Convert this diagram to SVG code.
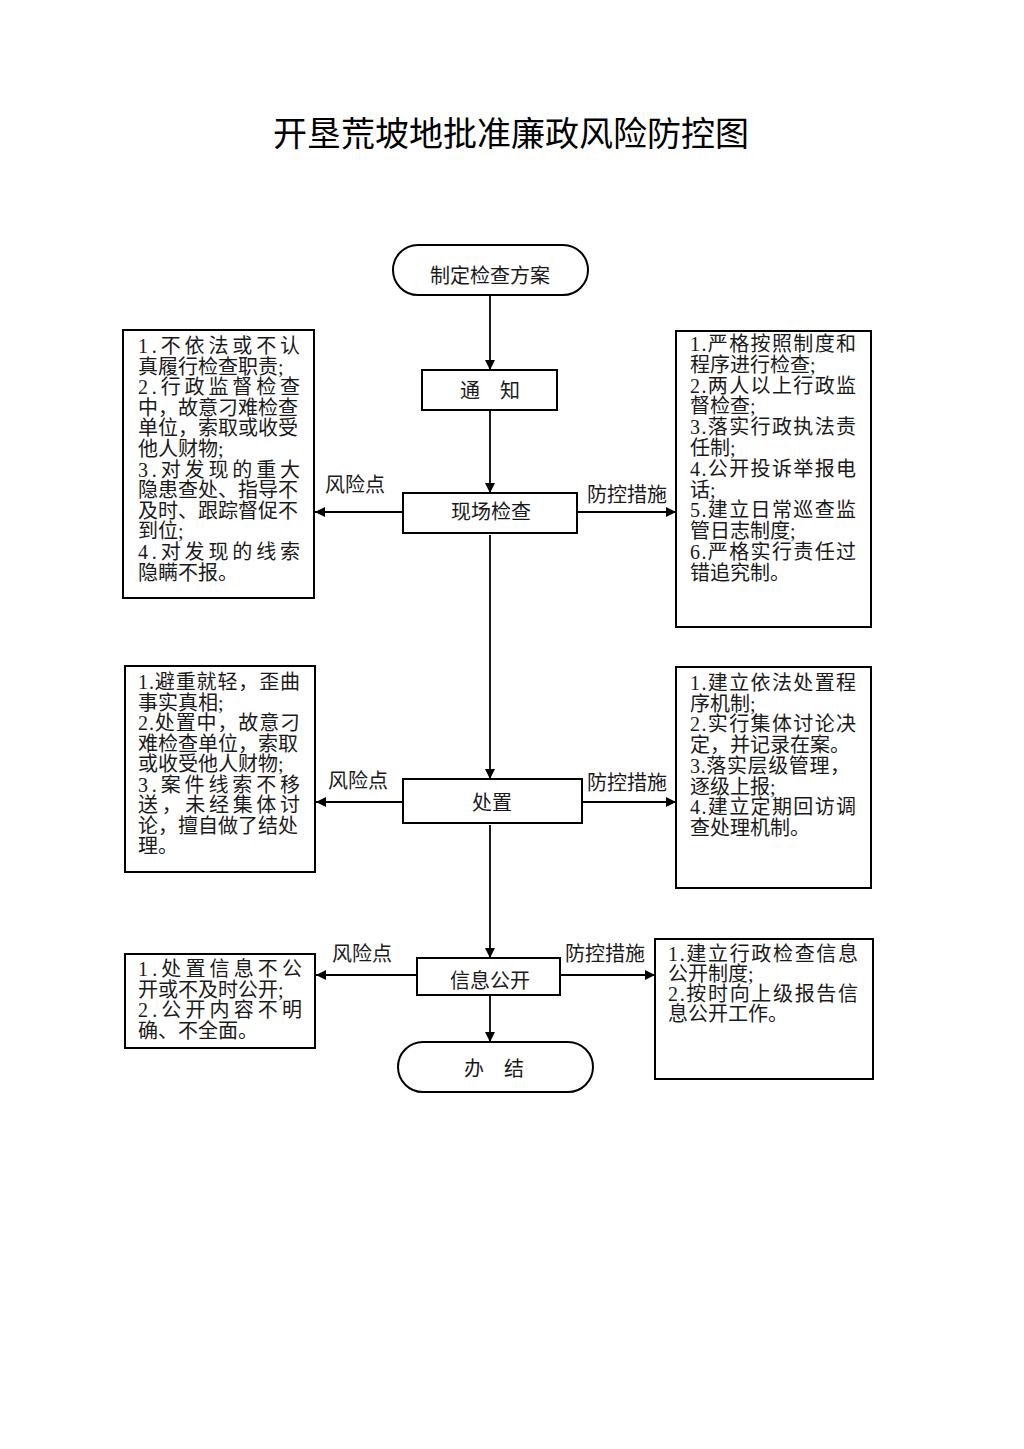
<svg xmlns="http://www.w3.org/2000/svg" width="1024" height="1449" viewBox="0 0 1024 1449">
<style>
.bg{fill:#ffffff}
.box{fill:#ffffff;stroke:#000;stroke-width:2}
.ln{fill:none;stroke:#000;stroke-width:1.8}
.t{font-family:"Liberation Serif","Noto Sans CJK SC",serif;font-size:20px;fill:#1a1a1a}
.c{text-anchor:middle}
.title{font-family:"Noto Sans CJK SC","Liberation Sans",sans-serif;font-size:34px;fill:#000;text-anchor:middle}
</style>
<defs>
<marker id="ah" markerWidth="10" markerHeight="10" refX="10" refY="5" orient="auto" markerUnits="userSpaceOnUse">
<path d="M0,0 L10,5 L0,10 Z" fill="#000"/>
</marker>
</defs>
<rect class="bg" x="0" y="0" width="1024" height="1449"/>
<text class="title" x="511" y="146">开垦荒坡地批准廉政风险防控图</text>

<g id="connectors">
<line class="ln" x1="490" y1="295" x2="490" y2="370" marker-end="url(#ah)"/>
<line class="ln" x1="490" y1="410" x2="490" y2="493" marker-end="url(#ah)"/>
<line class="ln" x1="490" y1="535" x2="490" y2="779" marker-end="url(#ah)"/>
<line class="ln" x1="490" y1="825" x2="490" y2="958" marker-end="url(#ah)"/>
<line class="ln" x1="490" y1="995" x2="490" y2="1042" marker-end="url(#ah)"/>
<line class="ln" x1="403" y1="512" x2="315" y2="512" marker-end="url(#ah)"/>
<line class="ln" x1="577" y1="512" x2="676" y2="512" marker-end="url(#ah)"/>
<line class="ln" x1="403" y1="802" x2="316" y2="802" marker-end="url(#ah)"/>
<line class="ln" x1="582" y1="802" x2="676" y2="802" marker-end="url(#ah)"/>
<line class="ln" x1="417" y1="975" x2="316" y2="975" marker-end="url(#ah)"/>
<line class="ln" x1="560" y1="975" x2="655" y2="975" marker-end="url(#ah)"/>
<text class="t" x="325" y="492">风险点</text>
<text class="t" x="587" y="502">防控措施</text>
<text class="t" x="328" y="788">风险点</text>
<text class="t" x="587" y="790">防控措施</text>
<text class="t" x="332" y="961">风险点</text>
<text class="t" x="565" y="961">防控措施</text>
</g>

<g id="start">
<rect class="box" x="393" y="245" width="195" height="50" rx="25" ry="25"/>
<text class="t c" x="490" y="283">制定检查方案</text>
</g>
<g id="notify">
<rect class="box" x="422" y="370" width="135" height="40"/>
<text class="t c" x="490" y="398">通　知</text>
</g>
<g id="inspect">
<rect class="box" x="403" y="493" width="174" height="40"/>
<text class="t c" x="491" y="519">现场检查</text>
</g>
<g id="handle">
<rect class="box" x="403" y="779" width="179" height="44"/>
<text class="t c" x="492" y="810">处置</text>
</g>
<g id="publish">
<rect class="box" x="417" y="958" width="143" height="37"/>
<text class="t c" x="490" y="988">信息公开</text>
</g>
<g id="end">
<rect class="box" x="398" y="1042" width="195" height="50" rx="25" ry="25"/>
<text class="t c" x="494" y="1076">办　结</text>
</g>

<g id="risk1">
<rect class="box" x="123" y="330" width="191" height="268"/>
<text class="t" x="138" y="353" textLength="162" lengthAdjust="spacing">1.不依法或不认</text>
<text class="t" x="138" y="373.6">真履行检查职责;</text>
<text class="t" x="138" y="394.2" textLength="162" lengthAdjust="spacing">2.行政监督检查</text>
<text class="t" x="138" y="414.8">中，故意刁难检查</text>
<text class="t" x="138" y="435.4">单位，索取或收受</text>
<text class="t" x="138" y="456">他人财物;</text>
<text class="t" x="138" y="476.6" textLength="162" lengthAdjust="spacing">3.对发现的重大</text>
<text class="t" x="138" y="497.2">隐患查处、指导不</text>
<text class="t" x="138" y="517.8">及时、跟踪督促不</text>
<text class="t" x="138" y="538.4">到位;</text>
<text class="t" x="138" y="559" textLength="162" lengthAdjust="spacing">4.对发现的线索</text>
<text class="t" x="138" y="579.6">隐瞒不报。</text>
</g>

<g id="measure1">
<rect class="box" x="676" y="331" width="195" height="296"/>
<text class="t" x="690" y="351" textLength="166" lengthAdjust="spacing">1.严格按照制度和</text>
<text class="t" x="690" y="371.8">程序进行检查;</text>
<text class="t" x="690" y="392.6" textLength="166" lengthAdjust="spacing">2.两人以上行政监</text>
<text class="t" x="690" y="413.4">督检查;</text>
<text class="t" x="690" y="434.2" textLength="166" lengthAdjust="spacing">3.落实行政执法责</text>
<text class="t" x="690" y="455">任制;</text>
<text class="t" x="690" y="475.8" textLength="166" lengthAdjust="spacing">4.公开投诉举报电</text>
<text class="t" x="690" y="496.6">话;</text>
<text class="t" x="690" y="517.4" textLength="166" lengthAdjust="spacing">5.建立日常巡查监</text>
<text class="t" x="690" y="538.2">管日志制度;</text>
<text class="t" x="690" y="559" textLength="166" lengthAdjust="spacing">6.严格实行责任过</text>
<text class="t" x="690" y="579.8">错追究制。</text>
</g>

<g id="risk2">
<rect class="box" x="125" y="666" width="190" height="206"/>
<text class="t" x="138" y="689" textLength="162" lengthAdjust="spacing">1.避重就轻，歪曲</text>
<text class="t" x="138" y="709.5">事实真相;</text>
<text class="t" x="138" y="730" textLength="162" lengthAdjust="spacing">2.处置中，故意刁</text>
<text class="t" x="138" y="750.5">难检查单位，索取</text>
<text class="t" x="138" y="771">或收受他人财物;</text>
<text class="t" x="138" y="791.5" textLength="162" lengthAdjust="spacing">3.案件线索不移</text>
<text class="t" x="138" y="812" textLength="162" lengthAdjust="spacing">送，未经集体讨</text>
<text class="t" x="138" y="832.5">论，擅自做了结处</text>
<text class="t" x="138" y="853">理。</text>
</g>

<g id="measure2">
<rect class="box" x="676" y="667" width="195" height="221"/>
<text class="t" x="690" y="690" textLength="166" lengthAdjust="spacing">1.建立依法处置程</text>
<text class="t" x="690" y="710.7">序机制;</text>
<text class="t" x="690" y="731.4" textLength="166" lengthAdjust="spacing">2.实行集体讨论决</text>
<text class="t" x="690" y="752.1">定，并记录在案。</text>
<text class="t" x="690" y="772.8" textLength="160" lengthAdjust="spacing">3.落实层级管理，</text>
<text class="t" x="690" y="793.5">逐级上报;</text>
<text class="t" x="690" y="814.2" textLength="166" lengthAdjust="spacing">4.建立定期回访调</text>
<text class="t" x="690" y="834.9">查处理机制。</text>
</g>

<g id="risk3">
<rect class="box" x="125" y="954" width="190" height="94"/>
<text class="t" x="138" y="976" textLength="164" lengthAdjust="spacing">1.处置信息不公</text>
<text class="t" x="138" y="996.7">开或不及时公开;</text>
<text class="t" x="138" y="1017.4" textLength="164" lengthAdjust="spacing">2.公开内容不明</text>
<text class="t" x="138" y="1038.1">确、不全面。</text>
</g>

<g id="measure3">
<rect class="box" x="655" y="939" width="218" height="140"/>
<text class="t" x="668" y="961" textLength="190" lengthAdjust="spacing">1.建立行政检查信息</text>
<text class="t" x="668" y="981">公开制度;</text>
<text class="t" x="668" y="1001" textLength="190" lengthAdjust="spacing">2.按时向上级报告信</text>
<text class="t" x="668" y="1021">息公开工作。</text>
</g>
</svg>
